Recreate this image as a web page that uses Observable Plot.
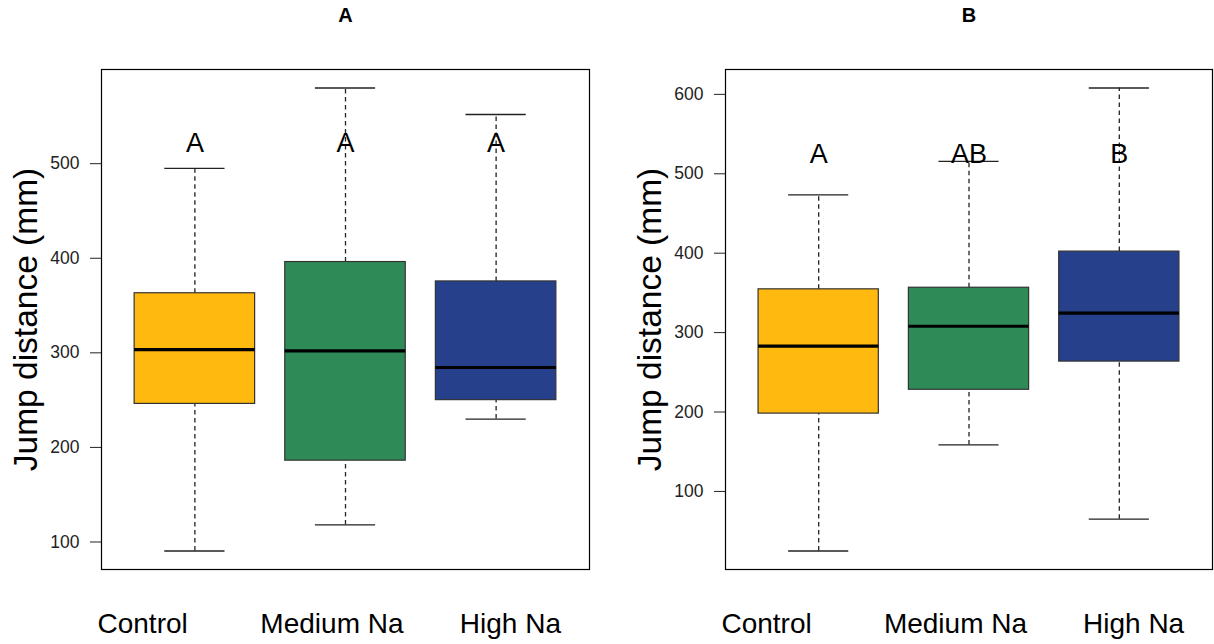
<!DOCTYPE html>
<html>
<head>
<meta charset="utf-8">
<script src="https://cdn.jsdelivr.net/npm/d3@7"></script>
<script src="https://cdn.jsdelivr.net/npm/@observablehq/plot@0.6"></script>
<style>
  body { margin: 0; background: #fff; }
  #wrap { display: flex; width: 1214px; height: 644px; }
  svg { font-family: "Liberation Sans", Arial, sans-serif; }
</style>
</head>
<body>
<div id="wrap"></div>
<script>
// ---- data ----
const groups = ["Control", "Medium Na", "High Na"];
const colors = ["#FFB90F", "#2E8B57", "#27408B"];

// Panel A
const aMin = [90.5, 118, 230];
const aQ1  = [246, 186, 250];
const aMed = [303.5, 302, 284.5];
const aQ3  = [363, 396, 375.5];
const aMax = [495, 580, 552];
const aLetters = ["A", "A", "A"];
const aLetterY = 521;
const aTicks = [100, 200, 300, 400, 500];

// Panel B
const bMin = [25, 158.5, 65];
const bQ1  = [198, 228, 263.5];
const bMed = [283, 308, 324.5];
const bQ3  = [354.5, 356.5, 402];
const bMax = [473.5, 515.5, 608];
const bLetters = ["A", "AB", "B"];
const bLetterY = 525;
const bTicks = [100, 200, 300, 400, 500, 600];

// layout helpers (not data)
const labelShift = [-0.347, -0.09, 0.095];

function pad(lo, hi) { const r = hi - lo; return [lo - 0.04 * r, hi + 0.04 * r]; }

function panel({title, mins, q1, med, q3, maxs, letters, letterY, ticks, marginLeft, marginRight}) {
  const rows = groups.map((g, k) => ({
    g, i: k + 1, lo: mins[k], q1: q1[k], med: med[k], q3: q3[k], hi: maxs[k],
    fill: colors[k], letter: letters[k], lx: k + 1 + labelShift[k]
  }));
  const dash = "4.5,3.5";
  return Plot.plot({
    width: 607,
    height: 644,
    marginLeft, marginRight,
    marginTop: 69,
    marginBottom: 75,
    style: {fontFamily: "Liberation Sans, Arial, sans-serif", background: "#fff"},
    x: {domain: [0.38, 3.62], axis: null},
    y: {domain: pad(d3.min(mins), d3.max(maxs)), axis: null},
    marks: [
      Plot.axisY({ticks, tickSize: 11, tickPadding: 11, fontSize: 17.5, color: "#222", label: null, tickFormat: d => String(d)}),
      Plot.ruleX(rows, {x: "i", y1: "q3", y2: "hi", stroke: "#222", strokeWidth: 1.3, strokeDasharray: dash}),
      Plot.ruleX(rows, {x: "i", y1: "lo", y2: "q1", stroke: "#222", strokeWidth: 1.3, strokeDasharray: dash}),
      Plot.ruleY(rows, {y: "hi", x1: d => d.i - 0.2, x2: d => d.i + 0.2, stroke: "#222", strokeWidth: 1.3}),
      Plot.ruleY(rows, {y: "lo", x1: d => d.i - 0.2, x2: d => d.i + 0.2, stroke: "#222", strokeWidth: 1.3}),
      Plot.rect(rows, {x1: d => d.i - 0.4, x2: d => d.i + 0.4, y1: "q1", y2: "q3", fill: "fill", stroke: "#333", strokeWidth: 1.2}),
      Plot.ruleY(rows, {y: "med", x1: d => d.i - 0.4, x2: d => d.i + 0.4, stroke: "#000", strokeWidth: 3.2}),
      Plot.text(rows, {x: "i", y: () => letterY, text: "letter", fontSize: 27, fill: "#000"}),
      Plot.text(rows, {x: "lx", text: "g", frameAnchor: "bottom", lineAnchor: "middle", dy: 55, fontSize: 28, fill: "#000"}),
      Plot.text([title], {text: d => d, frameAnchor: "top", lineAnchor: "middle", dy: -54, fontSize: 20, fontWeight: "bold", fill: "#000"}),
      Plot.text(["Jump distance (mm)"], {text: d => d, frameAnchor: "left", textAnchor: "middle", lineAnchor: "middle", dx: -75, rotate: -90, fontSize: 33.5, fill: "#000"}),
      Plot.frame({stroke: "#000", strokeWidth: 1.2})
    ]
  });
}

const wrap = document.getElementById("wrap");
wrap.appendChild(panel({title: "A", mins: aMin, q1: aQ1, med: aMed, q3: aQ3, maxs: aMax,
  letters: aLetters, letterY: aLetterY, ticks: aTicks, marginLeft: 101, marginRight: 18}));
wrap.appendChild(panel({title: "B", mins: bMin, q1: bQ1, med: bMed, q3: bQ3, maxs: bMax,
  letters: bLetters, letterY: bLetterY, ticks: bTicks, marginLeft: 118, marginRight: 2}));
</script>
</body>
</html>
